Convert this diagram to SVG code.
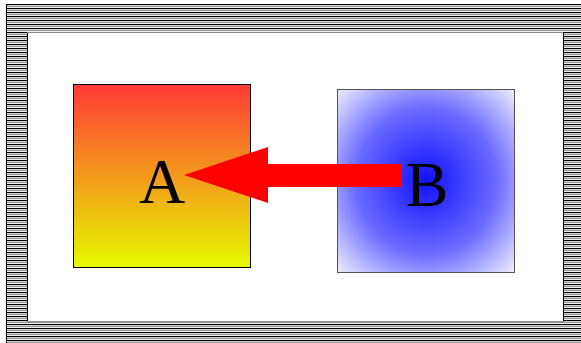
<svg xmlns="http://www.w3.org/2000/svg" width="581" height="343" viewBox="0 0 581 343">
<defs>
<pattern id="stripes" x="0" y="4" width="8" height="4" patternUnits="userSpaceOnUse">
<rect width="8" height="4" fill="#ffffff"/>
<rect y="0" width="8" height="1.2" fill="#000000"/>
<rect y="2" width="8" height="1.2" fill="#9a9a9a"/>
</pattern>
<linearGradient id="gA" x1="0" y1="0" x2="0" y2="1">
<stop offset="0" stop-color="#ff3a36"/>
<stop offset="0.5" stop-color="#f39a1c"/>
<stop offset="1" stop-color="#e6fa00"/>
</linearGradient>
<radialGradient id="gB" cx="0.5" cy="0.5" r="0.72">
<stop offset="0" stop-color="#1010ff"/>
<stop offset="0.55" stop-color="#6a6aff"/>
<stop offset="1" stop-color="#f4f4ff"/>
</radialGradient>
<style>
.lbl{font-family:"Liberation Serif","DejaVu Serif",serif;font-size:64px;fill:#000;text-anchor:middle}
</style>
</defs>
<g id="frame">
<rect x="6" y="4" width="590" height="350" fill="url(#stripes)"/>
<line x1="6.5" y1="4" x2="6.5" y2="343" stroke="#000" stroke-width="1"/>
<rect x="27" y="32" width="537" height="290" fill="#fff"/>
<line x1="27.5" y1="32" x2="27.5" y2="322" stroke="#000"/>
<line x1="27" y1="32.5" x2="564" y2="32.5" stroke="#888"/>
<line x1="563.5" y1="32" x2="563.5" y2="322" stroke="#000"/>
<line x1="27" y1="321.5" x2="564" y2="321.5" stroke="#888"/>
</g>
<g id="A">
<rect x="73.5" y="84.5" width="177" height="183" fill="url(#gA)" stroke="#000"/>
<text class="lbl" x="162" y="203">A</text>
</g>
<g id="B">
<rect x="337.5" y="89.5" width="177" height="183" fill="url(#gB)" stroke="#555"/>
<text class="lbl" x="427" y="206">B</text>
</g>
<g id="connectors">
<polygon points="402,164 268,164 268,147 184,175 268,203 268,187 402,187" fill="#ff0000"/>
</g>
</svg>
